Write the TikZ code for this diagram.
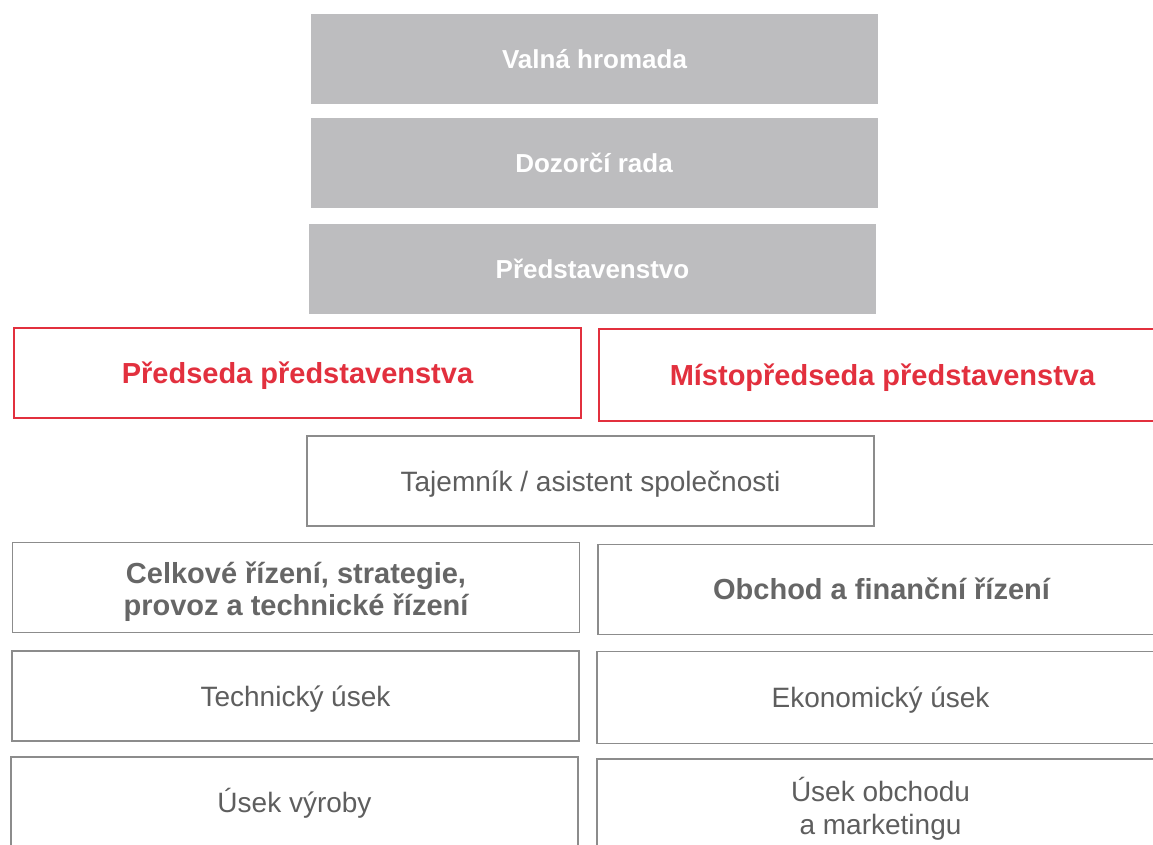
\documentclass[tikz,border=0pt]{standalone}
\usepackage{fontspec}
\setmainfont{Liberation Sans}
\definecolor{boxgray}{HTML}{BDBDBF}
\definecolor{redc}{HTML}{E2303E}
\definecolor{linegray}{HTML}{8C8C8C}
\definecolor{textgray}{HTML}{5E5E5E}
\newcommand{\twolines}[3]{\raisebox{#1}[\height][\depth]{\begin{tabular}{@{}c@{}}#2\\#3\end{tabular}}}
\tikzset{
  base/.style={rectangle, minimum width=567pt, minimum height=90pt, inner sep=0pt, align=center, font=\fontsize{28}{33}\selectfont, text height=20pt, text depth=0pt},
  graybox/.style={base, fill=boxgray, draw=none, text=white, font=\fontsize{26}{33}\selectfont\bfseries, text height=18.6pt},
  redbox/.style={base, draw=redc, line width=1.6pt, fill=white, text=redc, font=\fontsize{29}{33}\selectfont\bfseries, text height=20.8pt},
  whitebox/.style={base, draw=linegray, line width=1.3pt, fill=white, text=textgray},
  whiteboldbox/.style={whitebox, text=textgray!95!white, font=\fontsize{29}{32}\selectfont\bfseries, text height=20.8pt},
  multiline/.style={text height=, text depth=}
}
\begin{document}
\begin{tikzpicture}[x=1pt,y=-1pt]
\useasboundingbox (0,0) rectangle (1153,844);
\fill[white] (0,0) rectangle (1153,844);
\node[graybox] (vh) at (594.5,59) {Valná hromada};
\node[graybox] (dr) at (594,163) {Dozorčí rada};
\node[graybox] (pr) at (592.5,269) {Představenstvo};
\node[redbox] (pp) at (297.5,373) {Předseda představenstva};
\node[redbox, minimum height=92pt] (mp) at (882.5,375) {Místopředseda představenstva};
\node[whitebox] (ta) at (590.5,481) {Tajemník / asistent společnosti};
\node[whiteboldbox, multiline] (ce) at (296,587.5) {\twolines{-6pt}{Celkové řízení, strategie,}{provoz a technické řízení}};
\node[whiteboldbox] (ob) at (881.5,589.5) {Obchod a finanční řízení};
\node[whitebox] (te) at (295.5,696) {Technický úsek};
\node[whitebox, minimum height=92pt] (ek) at (880.5,697.5) {Ekonomický úsek};
\node[whitebox] (uv) at (294.5,802) {Úsek výroby};
\node[whitebox, multiline] (uo) at (880.5,804) {\twolines{-7pt}{Úsek obchodu}{a marketingu}};
\end{tikzpicture}
\end{document}
